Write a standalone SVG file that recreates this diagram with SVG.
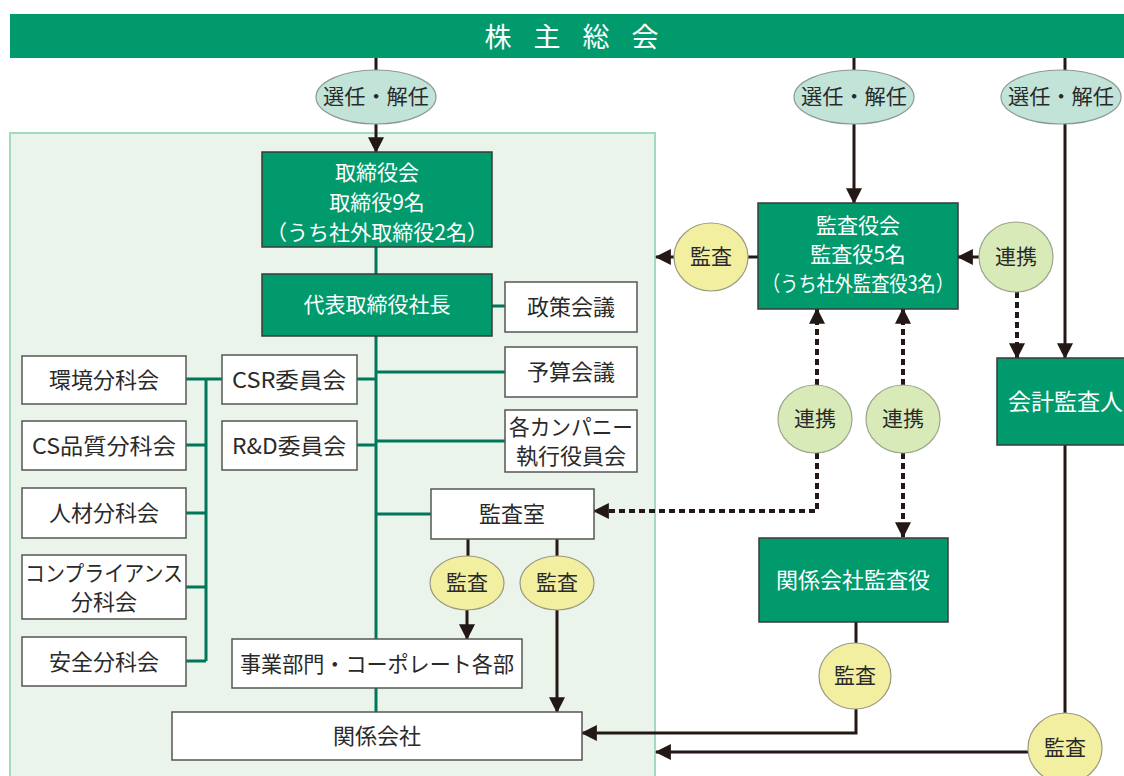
<svg xmlns="http://www.w3.org/2000/svg" width="1124" height="776" viewBox="0 0 1124 776">
<style>
text{font-family:"Noto Sans CJK JP","Noto Sans",sans-serif;text-anchor:middle}
.g{fill:#009a6c;stroke:#3a3a3a;stroke-width:1.5}
.w{fill:#fff;stroke:#555;stroke-width:1.5}
.wt{fill:#fff;font-size:21px}
.dt{fill:#2a2a2a;font-size:22px}
.sel{fill:#c2e4d8;stroke:#8a9a94;stroke-width:1.2}
.kan{fill:#f3efa0;stroke:#9a9a80;stroke-width:1.2}
.ren{fill:#d9eab9;stroke:#9aa58a;stroke-width:1.2}
.ct{fill:#2a2a2a;font-size:21px}
.k{fill:none;stroke:#231815;stroke-width:3}
.d{fill:none;stroke:#231815;stroke-width:4;stroke-dasharray:6 4}
.gl{fill:none;stroke:#00775a;stroke-width:3}
</style>
<defs>
<marker id="ah" markerUnits="userSpaceOnUse" markerWidth="16" markerHeight="16" viewBox="0 0 14 14" refX="13" refY="7" orient="auto">
<path d="M0,0 L14,7 L0,14 z" fill="#231815"/>
</marker>
</defs>
<rect width="1124" height="776" fill="#fff"/>
<g id="panel"><rect x="10" y="133" width="645" height="650" fill="#eaf4ea" stroke="#a3d9c3" stroke-width="2"/></g>
<g id="shareholders"><rect x="10" y="14" width="1114" height="44" fill="#009a6c"/>
<text x="498" y="47" fill="#fff" font-size="27">株</text><text x="547" y="47" fill="#fff" font-size="27">主</text><text x="596" y="47" fill="#fff" font-size="27">総</text><text x="645" y="47" fill="#fff" font-size="27">会</text></g>

<g id="connectors">
<path class="k" d="M376 58V70M854 58V70M1065 58V72"/>
<path class="k" d="M376 124V152" marker-end="url(#ah)"/>
<path class="k" d="M854 124V203" marker-end="url(#ah)"/>
<path class="k" d="M1065 123V358" marker-end="url(#ah)"/>
<path class="gl" d="M376 247V274M492 306H505M376 336V712M376 372H505M376 441H505M376 514H431M357 379H376M357 445H376"/>
<path class="gl" d="M206 379V661M186 379H222M186 445H206M186 513H206M186 587H206M186 661H206"/>
<path class="k" d="M468 539V556M557 539V556"/>
<path class="k" d="M467 610V639" marker-end="url(#ah)"/>
<path class="k" d="M557 610V712" marker-end="url(#ah)"/>
<path class="k" d="M758 257H748"/>
<path class="k" d="M674 257H656" marker-end="url(#ah)"/>
<path class="k" d="M979 257H958" marker-end="url(#ah)"/>
<path class="d" d="M1017 292V358" marker-end="url(#ah)"/>
<path class="d" d="M817 385V309" marker-end="url(#ah)"/>
<path class="d" d="M903 385V309" marker-end="url(#ah)"/>
<path class="d" d="M817 453V511H594" marker-end="url(#ah)"/>
<path class="d" d="M903 453V537" marker-end="url(#ah)"/>
<path class="k" d="M856 622V643"/>
<path class="k" d="M856 709V733H582" marker-end="url(#ah)"/>
<path class="k" d="M1065 445V713"/>
<path class="k" d="M1028 752H656" marker-end="url(#ah)"/>
</g>

<g id="sel1"><ellipse class="sel" cx="376" cy="97" rx="60" ry="27"/><text class="ct" x="376" y="104" textLength="106" lengthAdjust="spacingAndGlyphs">選任・解任</text></g>
<g id="sel2"><ellipse class="sel" cx="854" cy="97" rx="60" ry="27"/><text class="ct" x="854" y="104" textLength="106" lengthAdjust="spacingAndGlyphs">選任・解任</text></g>
<g id="sel3"><ellipse class="sel" cx="1061" cy="97" rx="60" ry="27"/><text class="ct" x="1061" y="104" textLength="106" lengthAdjust="spacingAndGlyphs">選任・解任</text></g>

<g id="board"><rect class="g" x="262" y="152" width="230" height="95"/>
<text class="wt" x="377" y="180">取締役会</text><text class="wt" x="377" y="210">取締役9名</text><text class="wt" x="377" y="240" textLength="222" lengthAdjust="spacingAndGlyphs">（うち社外取締役2名）</text></g>
<g id="president"><rect class="g" x="262" y="274" width="230" height="62"/><text class="wt" x="377" y="312">代表取締役社長</text></g>
<g id="policy"><rect class="w" x="505" y="282" width="132" height="50"/><text class="dt" x="571" y="315">政策会議</text></g>
<g id="budget"><rect class="w" x="505" y="347" width="132" height="50"/><text class="dt" x="571" y="380">予算会議</text></g>
<g id="company"><rect class="w" x="505" y="410" width="132" height="62"/><text class="dt" x="571" y="435" font-size="21" textLength="124" lengthAdjust="spacingAndGlyphs">各カンパニー</text><text class="dt" x="571" y="464" font-size="21">執行役員会</text></g>
<g id="csr"><rect class="w" x="222" y="355" width="135" height="49"/><text class="dt" x="289" y="388" textLength="114" lengthAdjust="spacingAndGlyphs">CSR委員会</text></g>
<g id="rd"><rect class="w" x="222" y="421" width="135" height="49"/><text class="dt" x="289" y="454" textLength="114" lengthAdjust="spacingAndGlyphs">R&amp;D委員会</text></g>
<g id="auditroom"><rect class="w" x="431" y="489" width="163" height="50"/><text class="dt" x="512" y="522">監査室</text></g>
<g id="divisions"><rect class="w" x="232" y="639" width="290" height="49"/><text class="dt" x="377" y="672" textLength="274" lengthAdjust="spacingAndGlyphs">事業部門・コーポレート各部</text></g>
<g id="affiliates"><rect class="w" x="172" y="712" width="410" height="48"/><text class="dt" x="377" y="744">関係会社</text></g>
<g id="env"><rect class="w" x="22" y="356" width="164" height="48"/><text class="dt" x="104" y="388">環境分科会</text></g>
<g id="cs"><rect class="w" x="22" y="421" width="164" height="49"/><text class="dt" x="104" y="454" textLength="144" lengthAdjust="spacingAndGlyphs">CS品質分科会</text></g>
<g id="hr"><rect class="w" x="22" y="488" width="164" height="50"/><text class="dt" x="104" y="521">人材分科会</text></g>
<g id="compliance"><rect class="w" x="22" y="555" width="164" height="64"/><text class="dt" x="104" y="581" font-size="21" textLength="158" lengthAdjust="spacingAndGlyphs">コンプライアンス</text><text class="dt" x="104" y="610" font-size="21">分科会</text></g>
<g id="safety"><rect class="w" x="22" y="637" width="164" height="49"/><text class="dt" x="104" y="670">安全分科会</text></g>

<g id="auditboard"><rect class="g" x="758" y="203" width="200" height="106"/>
<text class="wt" x="858" y="233" font-size="20">監査役会</text><text class="wt" x="858" y="262" font-size="20">監査役5名</text><text class="wt" x="858" y="291" font-size="20" textLength="192" lengthAdjust="spacingAndGlyphs">（うち社外監査役3名）</text></g>
<g id="accountant"><rect class="g" x="997" y="358" width="140" height="87"/><text class="wt" x="1008" y="410" style="text-anchor:start;font-size:23px">会計監査人</text></g>
<g id="affaudit"><rect class="g" x="759" y="538" width="189" height="84"/><text class="wt" x="853" y="588" style="font-size:22px">関係会社監査役</text></g>

<g id="c-audit1"><ellipse class="kan" cx="711" cy="257" rx="37" ry="34"/><text class="ct" x="711" y="264">監査</text></g>
<g id="c-link1"><ellipse class="ren" cx="1016" cy="257" rx="37" ry="35"/><text class="ct" x="1016" y="264">連携</text></g>
<g id="c-link2"><ellipse class="ren" cx="815" cy="419" rx="37" ry="34"/><text class="ct" x="815" y="426">連携</text></g>
<g id="c-link3"><ellipse class="ren" cx="903" cy="419" rx="37" ry="34"/><text class="ct" x="903" y="426">連携</text></g>
<g id="c-audit2"><ellipse class="kan" cx="467" cy="583" rx="37" ry="27"/><text class="ct" x="467" y="590">監査</text></g>
<g id="c-audit3"><ellipse class="kan" cx="557" cy="583" rx="37" ry="27"/><text class="ct" x="557" y="590">監査</text></g>
<g id="c-audit4"><ellipse class="kan" cx="855" cy="676" rx="36" ry="33"/><text class="ct" x="855" y="683">監査</text></g>
<g id="c-audit5"><ellipse class="kan" cx="1065" cy="748" rx="37" ry="35"/><text class="ct" x="1065" y="755">監査</text></g>
</svg>
